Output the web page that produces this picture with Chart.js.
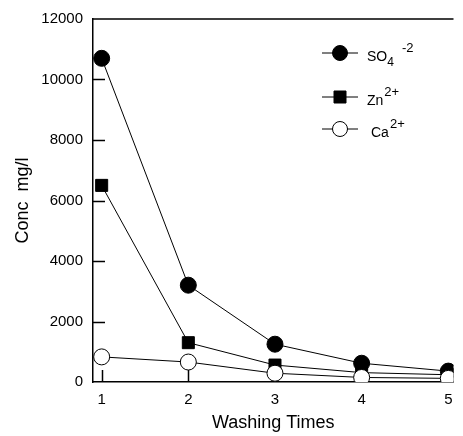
<!DOCTYPE html>
<html>
<head>
<meta charset="utf-8">
<script src="https://cdn.jsdelivr.net/npm/chart.js@4.4.1/dist/chart.umd.min.js"></script>
<style>
    html, body { margin:0; padding:0; background:#fff; }
    #box { width:463px; height:436px; }
</style>
</head>
<body>
<div id="box"><canvas id="graph1"></canvas></div>
<script>
// 洗浄回数と各イオンの濃度 (mg/l)
const WASH_TIMES = [ 1, 2, 3, 4, 5 ];
const SO4_DATA   = [ 10700, 3200, 1250, 620, 360 ];
const ZN_DATA    = [ 6500, 1300, 560, 310, 240 ];
const CA_DATA    = [ 830, 660, 290, 150, 120 ];
const Y_TICKS    = [ 0, 2000, 4000, 6000, 8000, 10000, 12000 ];

// 凡例の文字 (上付き・下付きがあるのでプラグインで描く)
const LEGEND_BASE = [ "SO", "Zn", "Ca" ];
const LEGEND_SUB  = [ "4", "", "" ];
const LEGEND_SUP  = [ "-2", "2+", "2+" ];

const FONT = "'Liberation Sans', Arial, sans-serif";

function toPoints(values){
    return WASH_TIMES.map((x, i) => ({ x: x, y: values[i] }));
}

// 内向きの目盛り線・上枠・凡例
const framePlugin = {
    id: "frame",
    beforeDatasetsDraw(chart){
        const ctx  = chart.ctx;
        const area = chart.chartArea;
        const xs   = chart.scales.x;
        const ys   = chart.scales.y;
        ctx.save();
        ctx.strokeStyle = "#000";
        ctx.lineWidth   = 1.5;
        ctx.beginPath();
        ctx.moveTo(area.left, area.top);
        ctx.lineTo(area.right, area.top);
        for (let v of Y_TICKS){
            if (v === 0 || v === 12000) continue;
            const py = Math.round(ys.getPixelForValue(v)) + 0.5;
            ctx.moveTo(area.left, py);
            ctx.lineTo(area.left + 12, py);
        }
        for (let v of WASH_TIMES){
            const px = Math.round(xs.getPixelForValue(v)) + 0.5;
            ctx.moveTo(px, area.bottom);
            ctx.lineTo(px, area.bottom - 12);
        }
        ctx.stroke();
        ctx.restore();
    },
    afterDraw(chart){
        const ctx    = chart.ctx;
        const rowY   = [ 53, 97, 129 ];
        const styles = [ "circle", "rect", "circle" ];
        const fills  = [ "#000", "#000", "#fff" ];
        ctx.save();
        for (let i = 0; i < LEGEND_BASE.length; i++){
            const y = rowY[i];
            ctx.strokeStyle = "#000";
            ctx.lineWidth   = 1;
            ctx.beginPath();
            ctx.moveTo(322, y);
            ctx.lineTo(358, y);
            ctx.stroke();

            ctx.fillStyle = fills[i];
            ctx.beginPath();
            if (styles[i] === "circle"){
                ctx.arc(340, y, 7.5, 0, Math.PI * 2);
            } else {
                ctx.rect(334, y - 6, 12, 12);
            }
            ctx.fill();
            ctx.stroke();

            // 文字
            const tx = (i === 2) ? 371 : 367;
            ctx.fillStyle    = "#000";
            ctx.textBaseline = "alphabetic";
            ctx.textAlign    = "left";
            ctx.font = "14px " + FONT;
            ctx.fillText(LEGEND_BASE[i], tx, y + 8);
            let w = ctx.measureText(LEGEND_BASE[i]).width;
            if (LEGEND_SUB[i]){
                ctx.font = "12px " + FONT;
                ctx.fillText(LEGEND_SUB[i], tx + w, y + 13);
                w += ctx.measureText(LEGEND_SUB[i]).width + 8;
            } else {
                w += 1;
            }
            ctx.font = "13px " + FONT;
            ctx.fillText(LEGEND_SUP[i], tx + w, y - 1);
        }
        ctx.restore();
    }
};

window.addEventListener("load", function(){
    const ctx = document.getElementById("graph1").getContext("2d");

    const CHART = new Chart(ctx, {
        type: "line",
        data: {
            datasets: [
                { label: "Ca2+", data: toPoints(CA_DATA), order: 0,
                  pointStyle: "circle", pointRadius: 8, pointBackgroundColor: "#fff" },
                { label: "Zn2+", data: toPoints(ZN_DATA), order: 1,
                  pointStyle: "rect", pointRadius: 8.5, pointBackgroundColor: "#000" },
                { label: "SO4-2", data: toPoints(SO4_DATA), order: 2,
                  pointStyle: "circle", pointRadius: 8, pointBackgroundColor: "#000" },
            ].map(d => Object.assign({
                borderColor: "#000",
                borderWidth: 1,
                pointBorderColor: "#000",
                pointBorderWidth: 1,
                tension: 0,
                fill: false,
            }, d))
        },
        options: {
            responsive: true,
            maintainAspectRatio: false,
            animation: false,
            layout: { padding: { top: 10, right: 3, left: 0, bottom: 0 } },
            plugins: {
                legend:  { display: false },
                tooltip: { enabled: false },
            },
            scales: {
                x: {
                    type: "linear",
                    min: 0.9,
                    max: 5.06,
                    afterBuildTicks: s => { s.ticks = WASH_TIMES.map(v => ({ value: v })); },
                    afterFit: s => { s.height = 54; },
                    grid:   { display: false, drawTicks: false },
                    border: { display: true, color: "#000", width: 1.5 },
                    ticks:  { color: "#000", padding: 9, font: { family: FONT, size: 15 },
                              callback: v => String(v) },
                    title:  { display: true, text: "Washing Times", color: "#000",
                              font: { family: FONT, size: 18 }, padding: { top: 0, bottom: 2 } },
                },
                y: {
                    min: 0,
                    max: 12000,
                    afterBuildTicks: s => { s.ticks = Y_TICKS.map(v => ({ value: v })); },
                    afterFit: s => { s.width = 93; },
                    grid:   { display: false, drawTicks: false },
                    border: { display: true, color: "#000", width: 1.5 },
                    ticks:  { color: "#000", padding: 10, font: { family: FONT, size: 15 },
                              callback: v => String(v) },
                    title:  { display: true, text: "Conc  mg/l", color: "#000",
                              font: { family: FONT, size: 18 }, padding: { top: 12, bottom: 0 } },
                },
            },
        },
        plugins: [ framePlugin ],
    });
});
</script>
</body>
</html>
